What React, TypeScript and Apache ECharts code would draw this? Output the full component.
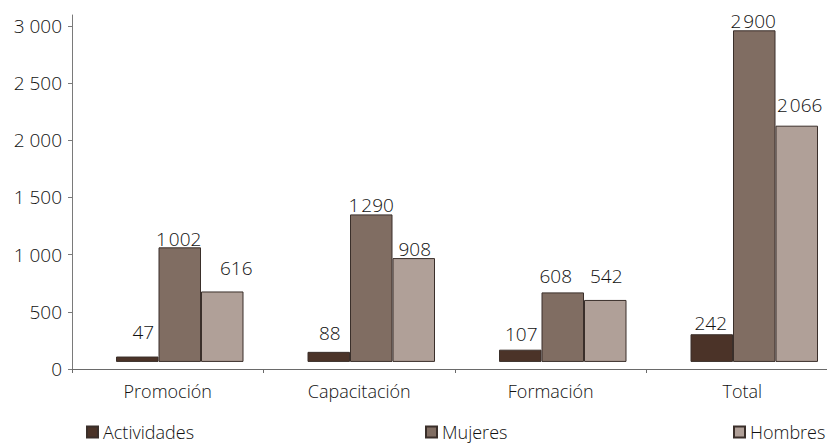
import React, { useEffect, useRef } from "react";
import * as echarts from "echarts";

const categories = ["Promoción", "Capacitación", "Formación", "Total"];
const actividades = [47, 88, 107, 242];
const mujeres = [1002, 1290, 608, 2900];
const hombres = [616, 908, 542, 2066];
const yTicks = [0, 500, 1000, 1500, 2000, 2500, 3000];

// label nudges [dx, dy] (layout only)
const nudgeAct = [[6, -15], [1, -9], [1, -6], [-1, -2]];
const nudgeMuj = [[-1, 1], [0, 0], [-7, -7], [-1, 0]];
const nudgeHom = [[14, -14], [1, 0], [1, -14], [3, -11]];

const fmtLabel = (v: number) =>
  v >= 1000 ? Math.floor(v / 1000) + "\u200A" + String(v % 1000).padStart(3, "0") : String(v);
const fmtAxis = (v: number) =>
  v >= 1000 ? Math.floor(v / 1000) + " " + String(v % 1000).padStart(3, "0") : String(v);

const FONT = "'Open Sans', 'Noto Sans', sans-serif";
const TXT = "#111111";
const W = 350;

export default function App() {
  const ref = useRef<HTMLDivElement>(null);
  useEffect(() => {
    if (!ref.current) return;
    const chart = echarts.init(ref.current, undefined, { renderer: "svg" });
    const mkSeries = (name: string, data: number[], color: string, nudge: number[][]) => ({
      name,
      type: "bar",
      xAxisIndex: 1,
      yAxisIndex: 1,
      barWidth: 42.5,
      barGap: "0%",
      itemStyle: { color, borderColor: "#3a2f2a", borderWidth: 1 },
      data: data.map((v, i) => ({
        value: v,
        label: { offset: nudge[i] },
      })),
      label: {
        show: true,
        position: "top",
        distance: 0,
        formatter: (p: any) => fmtLabel(p.value),
        fontFamily: FONT,
        fontWeight: W,
        fontSize: 19,
        color: TXT,
      },
    });
    const legendBase = {
      orient: "horizontal",
      top: 423,
      padding: 0,
      itemWidth: 11,
      itemHeight: 11,
      icon: "rect",
      selectedMode: false,
      textStyle: { fontFamily: FONT, fontWeight: W, fontSize: 18, color: TXT },
    };
    chart.setOption({
      animation: false,
      backgroundColor: "#ffffff",
      textStyle: { fontFamily: FONT },
      grid: [
        { left: 72, width: 766, top: 15, height: 354, containLabel: false },
        { left: 84, width: 766, top: 15, height: 354, containLabel: false },
      ],
      legend: [
        { ...legendBase, left: 86, data: ["Actividades"] },
        { ...legendBase, left: 425, data: ["Mujeres"] },
        { ...legendBase, left: 733, data: ["Hombres"] },
      ],
      xAxis: [
        {
          type: "category",
          gridIndex: 0,
          data: categories,
          axisLine: { show: true, lineStyle: { color: "#6a6a6a", width: 1 } },
          axisTick: { show: true, length: 4, inside: false, lineStyle: { color: "#6a6a6a" } },
          axisLabel: { fontFamily: FONT, fontWeight: W, fontSize: 18, color: TXT, margin: 13 },
          splitLine: { show: false },
        },
        {
          type: "category",
          gridIndex: 1,
          data: categories,
          show: false,
        },
      ],
      yAxis: [
        {
          type: "value",
          gridIndex: 0,
          min: 0,
          max: 3096,
          axisLine: { show: true, lineStyle: { color: "#7a7a7a", width: 1 } },
          axisTick: { show: true, length: 4, inside: false, customValues: yTicks, lineStyle: { color: "#7a7a7a" } },
          axisLabel: {
            customValues: yTicks,
            formatter: (v: number) => fmtAxis(v),
            fontFamily: FONT,
            fontWeight: W,
            fontSize: 19,
            color: TXT,
            margin: 10,
          },
          splitLine: { show: false },
        },
        {
          type: "value",
          gridIndex: 1,
          min: -62,
          max: 3034,
          show: false,
          splitLine: { show: false },
        },
      ],
      series: [
        mkSeries("Actividades", actividades, "#4b3328", nudgeAct),
        mkSeries("Mujeres", mujeres, "#806d62", nudgeMuj),
        mkSeries("Hombres", hombres, "#b0a098", nudgeHom),
      ],
    });
    return () => chart.dispose();
  }, []);
  return (
    <div
      style={{ position: "fixed", left: 0, top: 0, width: 827, height: 444, overflow: "hidden", background: "#fff" }}
    >
      <div ref={ref} style={{ width: 860, height: 444 }} />
    </div>
  );
}
